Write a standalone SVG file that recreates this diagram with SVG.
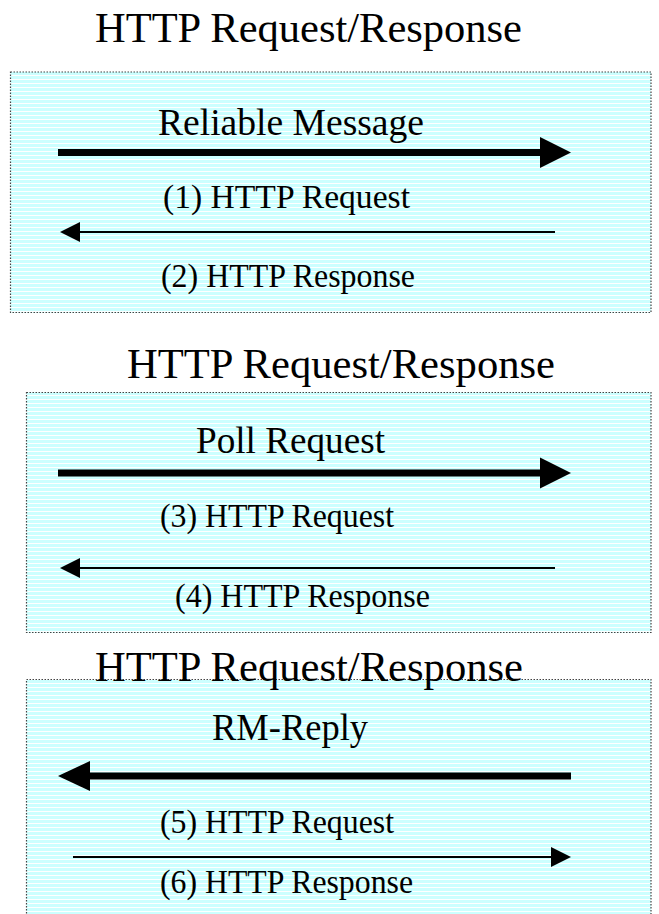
<svg xmlns="http://www.w3.org/2000/svg" width="659" height="914" viewBox="0 0 659 914">
<defs>
<pattern id="stripes" width="4" height="4" patternUnits="userSpaceOnUse">
<rect width="4" height="4" fill="#ccffff"/>
<rect y="3" width="4" height="1" fill="#ffffff"/>
</pattern>
</defs>
<style>
.box{fill:url(#stripes);stroke:#444;stroke-width:1.2;stroke-dasharray:1.5 1.5}
text{font-family:"Liberation Serif","Times New Roman",serif;fill:#000}
.title{font-size:42px}
.big{font-size:37px}
.small{font-size:33px}
.thin{stroke:#000;stroke-width:2;fill:none}
.thick{stroke:#000;stroke-width:7;fill:none}
.head{fill:#000}
</style>
<rect width="659" height="914" fill="#fff"/>
<g id="box1">
<rect class="box" x="10.5" y="72" width="640.5" height="240.5"/>
</g>
<g id="box2">
<rect class="box" x="26.5" y="392.5" width="624.5" height="240"/>
</g>
<g id="box3">
<rect class="box" x="26.5" y="679.5" width="624.5" height="250"/>
</g>
<g id="titles">
<text class="title" x="95" y="42" textLength="427" lengthAdjust="spacingAndGlyphs">HTTP Request/Response</text>
<text class="title" x="127" y="378" textLength="428" lengthAdjust="spacingAndGlyphs">HTTP Request/Response</text>
<text class="title" x="95" y="681" textLength="428" lengthAdjust="spacingAndGlyphs">HTTP Request/Response</text>
</g>
<g id="labels">
<text class="big" x="158" y="135" textLength="266" lengthAdjust="spacingAndGlyphs">Reliable Message</text>
<text class="small" x="163" y="208" textLength="247" lengthAdjust="spacingAndGlyphs">(1) HTTP Request</text>
<text class="small" x="161" y="287" textLength="254" lengthAdjust="spacingAndGlyphs">(2) HTTP Response</text>
<text class="big" x="196" y="453" textLength="189" lengthAdjust="spacingAndGlyphs">Poll Request</text>
<text class="small" x="160" y="527" textLength="234" lengthAdjust="spacingAndGlyphs">(3) HTTP Request</text>
<text class="small" x="175" y="607" textLength="255" lengthAdjust="spacingAndGlyphs">(4) HTTP Response</text>
<text class="big" x="212" y="740" textLength="156" lengthAdjust="spacingAndGlyphs">RM-Reply</text>
<text class="small" x="160" y="833" textLength="234" lengthAdjust="spacingAndGlyphs">(5) HTTP Request</text>
<text class="small" x="160" y="893" textLength="253" lengthAdjust="spacingAndGlyphs">(6) HTTP Response</text>
</g>
<g id="connectors">
<line class="thick" x1="58" y1="152.5" x2="542" y2="152.5"/>
<polygon class="head" points="540,137 571,152.5 540,168"/>
<line class="thin" x1="78" y1="232" x2="555" y2="232"/>
<polygon class="head" points="60,232 80,222 80,242"/>
<line class="thick" x1="58" y1="473" x2="542" y2="473"/>
<polygon class="head" points="540,457.5 571,473 540,488.5"/>
<line class="thin" x1="78" y1="568" x2="555" y2="568"/>
<polygon class="head" points="60,568 80,558 80,578"/>
<line class="thick" x1="88" y1="776" x2="571" y2="776"/>
<polygon class="head" points="58,776 90,761 90,791"/>
<line class="thin" x1="73" y1="857" x2="553" y2="857"/>
<polygon class="head" points="551,847 571,857 551,867"/>
</g>
</svg>
